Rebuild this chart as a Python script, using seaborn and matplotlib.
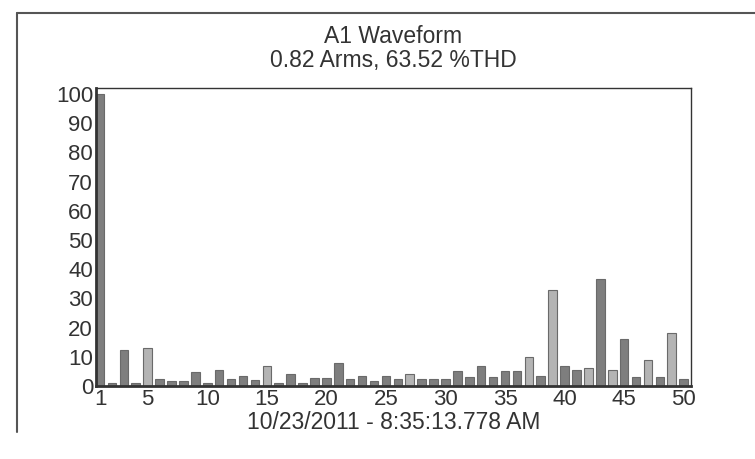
import numpy as np
import pandas as pd
import seaborn as sns
import matplotlib.pyplot as plt
from matplotlib.lines import Line2D

# harmonic magnitudes (% of fundamental)
harmonics = list(range(1, 51))
magnitude = [100, 1, 12.4, 1, 13, 2.3, 1.7, 1.7, 4.7, 1,
             5.5, 2.3, 3.4, 2, 6.7, 1.1, 4.1, 1, 2.9, 2.9,
             8, 2.3, 3.4, 1.7, 3.4, 2.4, 4.1, 2.3, 2.3, 2.3,
             5.3, 3, 6.7, 3, 5.3, 5.3, 9.9, 3.5, 33, 6.9,
             5.4, 6.1, 36.8, 5.5, 16, 3.2, 9, 3.2, 18, 2.5]
light_bars = [5, 15, 27, 37, 39, 42, 44, 47, 49]
x_ticks = [1, 5, 10, 15, 20, 25, 30, 35, 40, 45, 50]
y_ticks = list(range(0, 101, 10))

sns.set_style("white")
plt.rcParams['font.family'] = ['Liberation Sans', 'DejaVu Sans']

df = pd.DataFrame({'h': harmonics, 'mag': magnitude})

fig = plt.figure(figsize=(7.55, 4.59), dpi=100)
ax = fig.add_axes([0.127, 0.159, 0.788, 0.649])

colors = ['#b4b4b4' if h in light_bars else '#7e7e7e' for h in harmonics]
ax.bar(df['h'], df['mag'], width=0.72, color=colors, edgecolor='#6a6a6a', linewidth=0.8)

ax.set_xlim(0.65, 50.6)
ax.set_ylim(0, 102)
ax.set_xticks(x_ticks)
ax.set_yticks(y_ticks)
ax.tick_params(direction='in', length=5, color='#555555', labelsize=16, pad=2,
               labelcolor='#333333')
for s in ax.spines.values():
    s.set_color('#333333')
    s.set_linewidth(1.0)
ax.spines['left'].set_linewidth(2.0)
ax.spines['bottom'].set_linewidth(2.0)

ax.set_title("A1 Waveform\n0.82 Arms, 63.52 %THD", fontsize=16.5, pad=15,
             linespacing=1.05, color='#333333')
ax.set_xlabel("10/23/2011 - 8:35:13.778 AM", fontsize=16.5, labelpad=1, color='#333333')

# outer frame from the document
fig.add_artist(Line2D([17/755, 1.0], [1 - 12.5/459, 1 - 12.5/459], color='#555555', lw=1.5))
fig.add_artist(Line2D([17/755, 17/755], [1 - 12.5/459, 1 - 432/459], color='#555555', lw=1.5))

fig.savefig('out.png', dpi=100)
